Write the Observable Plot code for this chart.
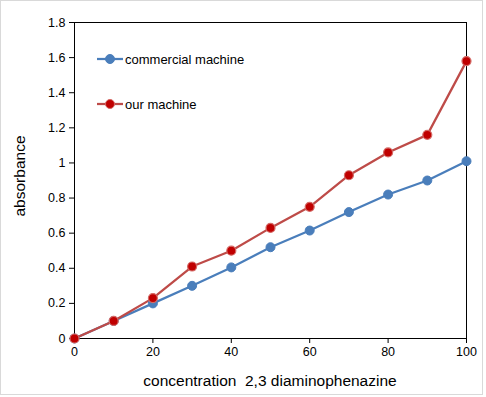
<!DOCTYPE html>
<html>
<head>
<meta charset="utf-8">
<script src="https://cdn.jsdelivr.net/npm/d3@7"></script>
<script src="https://cdn.jsdelivr.net/npm/@observablehq/plot@0.6"></script>
<style>
  html, body { margin: 0; padding: 0; background: #fff; }
  #wrap { position: relative; width: 486px; height: 397px; font-family: "Liberation Sans", Arial, sans-serif; }
  #border { position: absolute; left: 0; top: 0; width: 481px; height: 393px; border: 1px solid #d9d9d9; box-sizing: content-box; pointer-events: none; }
  #legend { position: absolute; left: 97px; top: 49px; font-size: 13px; color: #000; }
  .item { display: flex; align-items: center; height: 20px; }
  .item svg { margin-right: 2px; }
  #xtitle { position: absolute; left: 0; width: 540px; top: 372px; text-align: center; font-size: 15.5px; white-space: pre; }
  #ytitle { position: absolute; left: 20px; top: 176px; font-size: 15.5px; transform: translate(-50%, -50%) rotate(-90deg); white-space: nowrap; }
</style>
</head>
<body>
<div id="wrap"></div>
<script>
const concentration = [0, 10, 20, 30, 40, 50, 60, 70, 80, 90, 100];
const commercialMachine = [0, 0.10, 0.20, 0.30, 0.405, 0.52, 0.615, 0.72, 0.82, 0.90, 1.01];
const ourMachine = [0, 0.10, 0.23, 0.41, 0.50, 0.63, 0.75, 0.93, 1.06, 1.16, 1.58];
const seriesNames = ["commercial machine", "our machine"];
const seriesLine = ["#4a7ebb", "#be4b48"];
const seriesDot = ["#4a7ebb", "#c00000"];
const xTicks = [0, 20, 40, 60, 80, 100];
const yTicks = [0, 0.2, 0.4, 0.6, 0.8, 1, 1.2, 1.4, 1.6, 1.8];
const xLabel = "concentration  2,3 diaminophenazine";
const yLabel = "absorbance";

const blue = concentration.map((x, i) => ({x, y: commercialMachine[i]}));
const red = concentration.map((x, i) => ({x, y: ourMachine[i]}));

const chart = Plot.plot({
  width: 486,
  height: 397,
  marginLeft: 74,
  marginRight: 20,
  marginTop: 22,
  marginBottom: 59,
  style: { fontFamily: "Liberation Sans, Arial, sans-serif", fontSize: "12.5px", color: "#000", background: "transparent", overflow: "visible" },
  x: { domain: [0, 100], ticks: xTicks, tickSize: 5, tickPadding: 4, label: null },
  y: { domain: [0, 1.8], ticks: yTicks, tickSize: 5, tickPadding: 4, label: null, tickFormat: d => String(+d.toFixed(1)) },
  marks: [
    Plot.frame({ stroke: "#000", strokeWidth: 1 }),
    Plot.line(blue, { x: "x", y: "y", stroke: seriesLine[0], strokeWidth: 2.25 }),
    Plot.line(red, { x: "x", y: "y", stroke: seriesLine[1], strokeWidth: 2.25 }),
    Plot.dot(blue, { x: "x", y: "y", r: 4.5, fill: seriesDot[0], stroke: seriesLine[0], strokeWidth: 1 }),
    Plot.dot(red, { x: "x", y: "y", r: 4.5, fill: seriesDot[1], stroke: "#d46a66", strokeWidth: 1.2 })
  ]
});

const wrap = document.getElementById("wrap");
wrap.appendChild(chart);
chart.style.position = "absolute";
chart.style.left = "0";
chart.style.top = "0";
chart.querySelectorAll("text").forEach(t => t.setAttribute("fill", "#000"));

const legend = document.createElement("div");
legend.id = "legend";
seriesNames.forEach((name, i) => {
  const item = document.createElement("div");
  item.className = "item";
  item.style.marginBottom = i === 0 ? "25px" : "0";
  item.innerHTML = `<svg width="26" height="12"><line x1="0" y1="6" x2="26" y2="6" stroke="${seriesLine[i]}" stroke-width="2.25"/><circle cx="13" cy="6" r="4.5" fill="${seriesDot[i]}" stroke="${i ? '#d46a66' : seriesLine[i]}"/></svg><span>${name}</span>`;
  legend.appendChild(item);
});
wrap.appendChild(legend);

const xt = document.createElement("div");
xt.id = "xtitle";
xt.textContent = xLabel;
wrap.appendChild(xt);

const yt = document.createElement("div");
yt.id = "ytitle";
yt.textContent = yLabel;
wrap.appendChild(yt);

const border = document.createElement("div");
border.id = "border";
wrap.appendChild(border);
</script>
</body>
</html>
